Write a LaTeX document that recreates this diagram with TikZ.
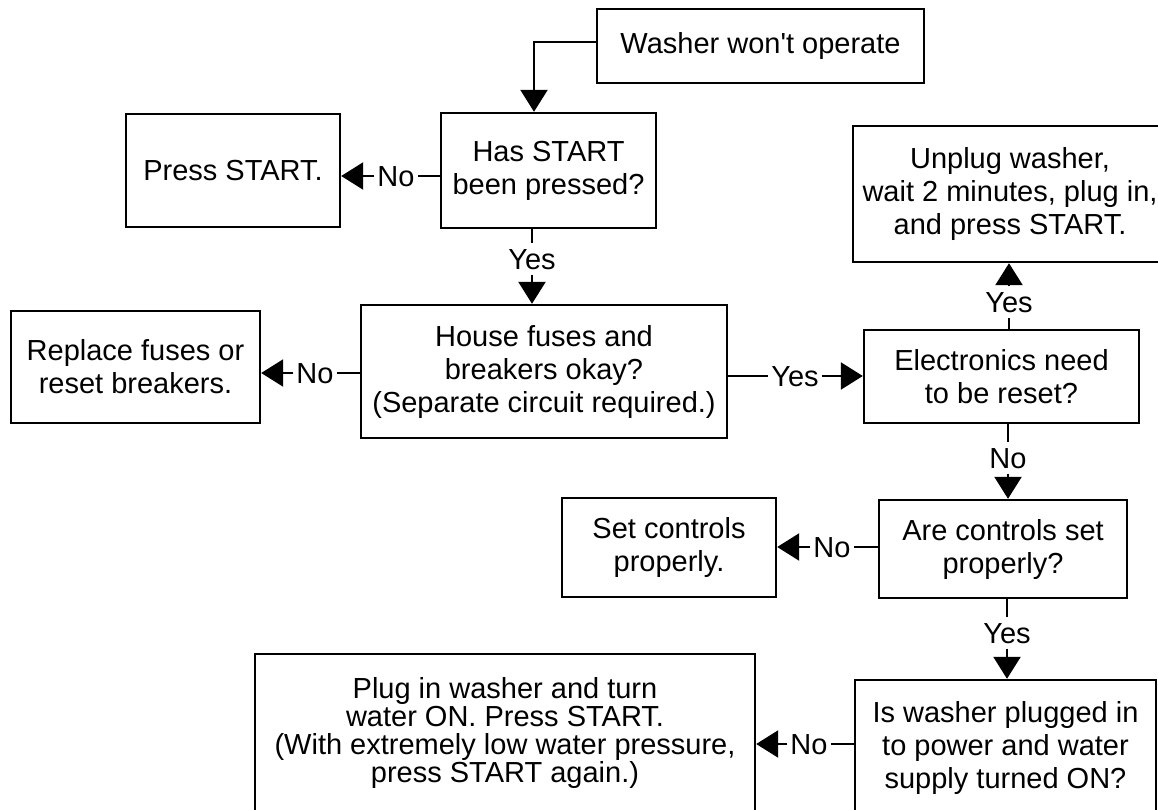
\documentclass[tikz,border=0pt]{standalone}
\usepackage{fontspec}
\setmainfont{Liberation Sans}[Ligatures=TeXOff]
\usetikzlibrary{arrows.meta}
\begin{document}
\begin{tikzpicture}[x=1pt,y=-1pt,
  box/.style={draw,line width=2.4pt,inner sep=0pt,align=center,font=\fontsize{29}{33}\selectfont},
  lbl/.style={inner xsep=3pt,inner ysep=5pt,text height=21pt,text depth=0pt,font=\fontsize{29}{33}\selectfont},
  conn/.style={line width=2.4pt},
  arr/.style={conn,-{Triangle[width=27pt,length=22pt]}}]
\useasboundingbox (0,0) rectangle (1158,810);
\fill[white] (0,0) rectangle (1158,810);

\node[box,minimum width=327pt,minimum height=74pt] (washer) at (760.5,46) {Washer won't operate};
\node[box,minimum width=215pt,minimum height=115pt] (has) at (548.5,170.5) {Has START\\been pressed?};
\node[box,minimum width=214pt,minimum height=113pt] (press) at (233,170.5) {Press START.};
\node[box,minimum width=366pt,minimum height=133pt] (house) at (544,371.5) {House fuses and\\breakers okay?\\(Separate circuit required.)};
\node[box,minimum width=249pt,minimum height=112pt] (replace) at (135.5,367) {Replace fuses or\\reset breakers.};
\node[box,minimum width=275pt,minimum height=93pt] (elec) at (1001.5,376.5) {Electronics need\\to be reset?};
\node[box,minimum width=314pt,minimum height=136pt] (unplug) at (1010,194) {Unplug washer,\\wait 2 minutes, plug in,\\and press START.};
\node[box,minimum width=214pt,minimum height=99pt] (setc) at (669,547.5) {Set controls\\properly.};
\node[box,minimum width=248pt,minimum height=98pt] (arec) at (1003,549) {Are controls set\\properly?};
\node[box,minimum width=301pt,minimum height=136pt] (iswash) at (1005.5,748) {Is washer plugged in\\to power and water\\supply turned ON?};
\node[box,minimum width=500pt,minimum height=158pt,font=\fontsize{29}{27.7}\selectfont] (plug) at (505,733) {Plug in washer and turn\\water ON. Press START.\\(With extremely low water pressure,\\press START again.)};

% start connector
\coordinate (bend) at (534,42);
\draw[arr] (washer.west |- bend) -- (bend) -- (has.north -| bend);

% has -> press (No)
\node[lbl] (n1) at (396,176) {No};
\draw[conn] (has.west |- n1) -- (n1.east);
\draw[arr] (n1.west) -- (press.east |- n1);

% has -> house (Yes)
\node[lbl] (y1) at (532,259) {Yes};
\draw[conn] (has.south -| y1) -- (y1.north);
\draw[arr] (y1.south) -- (house.north -| y1);

% house -> replace (No)
\node[lbl] (n2) at (315,373) {No};
\draw[conn] (house.west |- n2) -- (n2.east);
\draw[arr] (n2.west) -- (replace.east |- n2);

% house -> elec (Yes)
\node[lbl] (y2) at (795,376) {Yes};
\draw[conn] (house.east |- y2) -- (y2.west);
\draw[arr] (y2.east) -- (elec.west |- y2);

% elec -> unplug (Yes)
\node[lbl] (y3) at (1009,302) {Yes};
\draw[conn] (elec.north -| y3) -- (y3.south);
\draw[arr] (y3.north) -- (unplug.south -| y3);

% elec -> arec (No)
\node[lbl] (n3) at (1008,458) {No};
\draw[conn] (elec.south -| n3) -- (n3.north);
\draw[arr] (n3.south) -- (arec.north -| n3);

% arec -> setc (No)
\node[lbl] (n4) at (832,547) {No};
\draw[conn] (arec.west |- n4) -- (n4.east);
\draw[arr] (n4.west) -- (setc.east |- n4);

% arec -> iswash (Yes)
\node[lbl] (y4) at (1007,633) {Yes};
\draw[conn] (arec.south -| y4) -- (y4.north);
\draw[arr] (y4.south) -- (iswash.north -| y4);

% iswash -> plug (No)
\node[lbl] (n5) at (809,744) {No};
\draw[conn] (iswash.west |- n5) -- (n5.east);
\draw[arr] (n5.west) -- (plug.east |- n5);
\end{tikzpicture}
\end{document}
